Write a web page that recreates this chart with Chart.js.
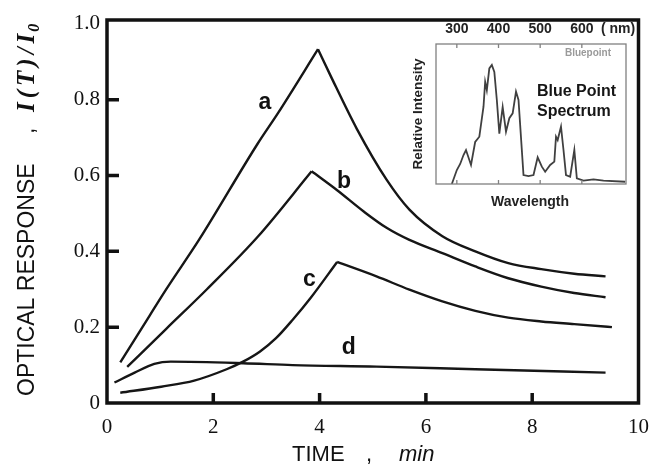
<!DOCTYPE html>
<html>
<head>
<meta charset="utf-8">
<script src="https://cdn.jsdelivr.net/npm/chart.js@4.4.0/dist/chart.umd.min.js"></script>
<style>
  body { margin: 0; background: #fff; }
  #wrap { position: relative; width: 661px; height: 475px; }
  #main { position: absolute; left: 0; top: 0; }
  #inset { position: absolute; left: 405px; top: 16px; }
</style>
</head>
<body>
<div id="wrap">
  <canvas id="main" width="661" height="475"></canvas>
  <canvas id="inset" width="240" height="200"></canvas>
</div>
<script>
// curves a-d : time (min) vs I(T)/I0
const timeA = [0.25, 0.8, 1.11, 1.73, 2.84, 3.22, 3.97, 4.21, 4.70, 5.26, 5.69, 6.31, 6.93, 7.55, 8.17, 8.79, 9.38];
const respA = [0.107, 0.23, 0.299, 0.43, 0.685, 0.765, 0.933, 0.862, 0.723, 0.589, 0.51, 0.44, 0.40, 0.369, 0.353, 0.341, 0.334];
const timeB = [0.38, 1.11, 1.88, 2.84, 3.85, 4.33, 4.83, 5.26, 5.69, 6.31, 6.93, 7.55, 8.17, 8.79, 9.38];
const respB = [0.095, 0.195, 0.30, 0.439, 0.611, 0.561, 0.505, 0.462, 0.430, 0.395, 0.360, 0.329, 0.307, 0.290, 0.279];
const timeC = [0.25, 1.02, 1.64, 2.25, 2.56, 2.88, 3.18, 3.49, 3.83, 4.33, 5.07, 5.69, 6.31, 6.93, 7.55, 8.17, 8.79, 9.5];
const respC = [0.027, 0.043, 0.059, 0.089, 0.109, 0.136, 0.171, 0.219, 0.277, 0.372, 0.334, 0.299, 0.268, 0.243, 0.225, 0.215, 0.208, 0.2];
const timeD = [0.14, 0.52, 0.89, 1.2, 2.56, 3.49, 5.07, 6.93, 9.38];
const respD = [0.054, 0.08, 0.103, 0.109, 0.105, 0.1, 0.096, 0.089, 0.08];

// curve letters, placed in data units
const labelNames = ['a', 'b', 'c', 'd'];
const labelTime = [2.97, 4.46, 3.81, 4.55];
const labelResp = [0.793, 0.584, 0.325, 0.145];

const xTicks = [0, 2, 4, 6, 8, 10];
const yTicks = [0, 0.2, 0.4, 0.6, 0.8, 1.0];

// inset: Blue Point spectrum
const specNm = [288, 300, 308, 316, 322, 334, 344, 354, 364, 368, 372, 378, 384, 390, 396, 402, 410, 418, 426, 434, 442, 448, 460, 472, 484, 494, 504, 512, 524, 534, 538, 542, 550, 556, 562, 572, 582, 588, 604, 628, 652, 704];
const specInt = [0, 10, 14.3, 20.7, 24.3, 13.6, 30, 33.8, 55.2, 73, 67, 82.6, 85, 80, 60, 36, 55, 37.4, 47, 50.5, 66, 60, 6.4, 5.7, 6.4, 19, 12.4, 8.8, 13.6, 16, 33.8, 31.4, 41, 24.3, 6.4, 5.2, 24.3, 4, 2.4, 3.3, 2.4, 1.6];
const nmTicks = [300, 400, 500, 600];

const serif = "'Liberation Serif', 'Times New Roman', serif";
const sans = "'Liberation Sans', Arial, sans-serif";

function toPoints(t, r, from, to) {
    const pts = [];
    for (let i = from; i < to; i++) pts.push({ x: t[i], y: r[i] });
    return pts;
}

// split at the peak so the corner stays sharp
function curveSets(t, r) {
    const k = r.indexOf(Math.max(...r));
    return [toPoints(t, r, 0, k + 1), toPoints(t, r, k, t.length)];
}

const mainData = [
    ...curveSets(timeA, respA),
    ...curveSets(timeB, respB),
    ...curveSets(timeC, respC),
    toPoints(timeD, respD, 0, timeD.length)
];

const framePlugin = {
    id: 'frame',
    afterDatasetsDraw(chart) {
        const { ctx, chartArea: a, scales: { x, y } } = chart;
        ctx.save();
        ctx.strokeStyle = '#111';
        ctx.lineWidth = 3.5;
        ctx.strokeRect(a.left, a.top, a.right - a.left, a.bottom - a.top);
        ctx.beginPath();
        xTicks.slice(1, -1).forEach(v => {
            const p = x.getPixelForValue(v);
            ctx.moveTo(p, a.bottom);
            ctx.lineTo(p, a.bottom - 10);
        });
        yTicks.slice(1, -1).forEach(v => {
            const p = y.getPixelForValue(v);
            ctx.moveTo(a.left, p);
            ctx.lineTo(a.left + 12, p);
        });
        ctx.stroke();

        // curve letters
        ctx.fillStyle = '#111';
        ctx.font = 'bold 23px ' + sans;
        ctx.textAlign = 'center';
        ctx.textBaseline = 'middle';
        labelNames.forEach((n, i) => {
            ctx.fillText(n, x.getPixelForValue(labelTime[i]), y.getPixelForValue(labelResp[i]));
        });

        // x title
        ctx.textBaseline = 'middle';
        ctx.textAlign = 'left';
        ctx.font = '22px ' + sans;
        ctx.fillText('TIME', 292, 455);
        ctx.fillText(',', 366, 455);
        ctx.font = 'italic 22px ' + sans;
        ctx.fillText('min', 399, 455);

        // y title, rotated
        ctx.translate(34, 396);
        ctx.rotate(-Math.PI / 2);
        ctx.textBaseline = 'alphabetic';
        ctx.font = '23px ' + sans;
        ctx.fillText('OPTICAL RESPONSE', 0, 0);
        ctx.fillText(',', 262, 0);
        ctx.font = 'bold italic 25px ' + serif;
        ctx.letterSpacing = '4px';
        ctx.fillText('I(T)/I', 284, 0);
        const w = ctx.measureText('I(T)/I').width;
        ctx.font = 'bold italic 16px ' + serif;
        ctx.letterSpacing = '0px';
        ctx.fillText('0', 284 + w - 2, 5);
        ctx.restore();
    }
};

new Chart(document.getElementById('main'), {
    type: 'scatter',
    data: {
        datasets: mainData.map(d => ({
            data: d,
            showLine: true,
            borderColor: '#161616',
            borderWidth: 2.4,
            pointRadius: 0,
            cubicInterpolationMode: 'monotone',
            fill: false
        }))
    },
    options: {
        responsive: false,
        animation: false,
        layout: { padding: { top: 20, right: 16, left: 0, bottom: 0 } },
        plugins: { legend: { display: false }, tooltip: { enabled: false } },
        scales: {
            x: {
                type: 'linear', min: 0, max: 10,
                afterBuildTicks: s => { s.ticks = xTicks.map(v => ({ value: v })); },
                afterFit: s => { s.height = 72; },
                grid: { display: false, drawTicks: false },
                border: { display: false },
                ticks: { font: { family: serif, size: 21 }, color: '#111', padding: 12, maxRotation: 0, autoSkip: false }
            },
            y: {
                min: 0, max: 1.01,
                afterBuildTicks: s => { s.ticks = yTicks.map(v => ({ value: v })); },
                afterFit: s => { s.width = 107; },
                grid: { display: false, drawTicks: false },
                border: { display: false },
                ticks: {
                    font: { family: serif, size: 21 }, color: '#111', padding: 7, autoSkip: false,
                    callback: v => v === 0 ? '0' : v.toFixed(1)
                }
            }
        }
    },
    plugins: [framePlugin]
});

const insetPlugin = {
    id: 'insetFrame',
    afterDatasetsDraw(chart) {
        const { ctx, chartArea: a, scales: { x } } = chart;
        ctx.save();
        ctx.strokeStyle = '#808080';
        ctx.lineWidth = 1.3;
        ctx.strokeRect(a.left, a.top, a.right - a.left, a.bottom - a.top);
        ctx.beginPath();
        nmTicks.forEach(v => {
            const p = x.getPixelForValue(v);
            ctx.moveTo(p, a.top); ctx.lineTo(p, a.top + 4);
            ctx.moveTo(p, a.bottom); ctx.lineTo(p, a.bottom - 4);
        });
        ctx.stroke();

        ctx.fillStyle = '#222';
        ctx.textBaseline = 'middle';
        ctx.textAlign = 'center';
        ctx.font = 'bold 14px ' + sans;
        ctx.fillText('( nm)', 213, 13);
        ctx.fillText('Wavelength', 125, 186);
        ctx.fillStyle = '#9a9a9a';
        ctx.font = 'bold 10px ' + sans;
        ctx.fillText('Bluepoint', 183, 37);
        ctx.fillStyle = '#161616';
        ctx.textAlign = 'left';
        ctx.font = 'bold 16px ' + sans;
        ctx.fillText('Blue Point', 132, 76);
        ctx.fillText('Spectrum', 132, 96);
        ctx.translate(13, 98);
        ctx.rotate(-Math.PI / 2);
        ctx.textAlign = 'center';
        ctx.fillStyle = '#222';
        ctx.font = 'bold 13.5px ' + sans;
        ctx.fillText('Relative Intensity', 0, 0);
        ctx.restore();
    }
};

new Chart(document.getElementById('inset'), {
    type: 'scatter',
    data: {
        datasets: [{
            data: toPoints(specNm, specInt, 0, specNm.length),
            showLine: true,
            borderColor: '#404040',
            borderWidth: 1.8,
            pointRadius: 0,
            tension: 0,
            fill: false
        }]
    },
    options: {
        responsive: false,
        animation: false,
        layout: { padding: { top: 0, right: 19, left: 0, bottom: 32 } },
        plugins: { legend: { display: false }, tooltip: { enabled: false } },
        scales: {
            x: {
                type: 'linear', position: 'top', min: 250, max: 706,
                afterBuildTicks: s => { s.ticks = nmTicks.map(v => ({ value: v })); },
                afterFit: s => { s.height = 28; },
                grid: { display: false, drawTicks: false },
                border: { display: false },
                ticks: { font: { family: sans, size: 14, weight: 'bold' }, color: '#222', padding: 6, maxRotation: 0, autoSkip: false }
            },
            y: {
                min: 0, max: 100,
                afterFit: s => { s.width = 31; },
                grid: { display: false, drawTicks: false },
                border: { display: false },
                ticks: { display: false }
            }
        }
    },
    plugins: [insetPlugin]
});
</script>
</body>
</html>
